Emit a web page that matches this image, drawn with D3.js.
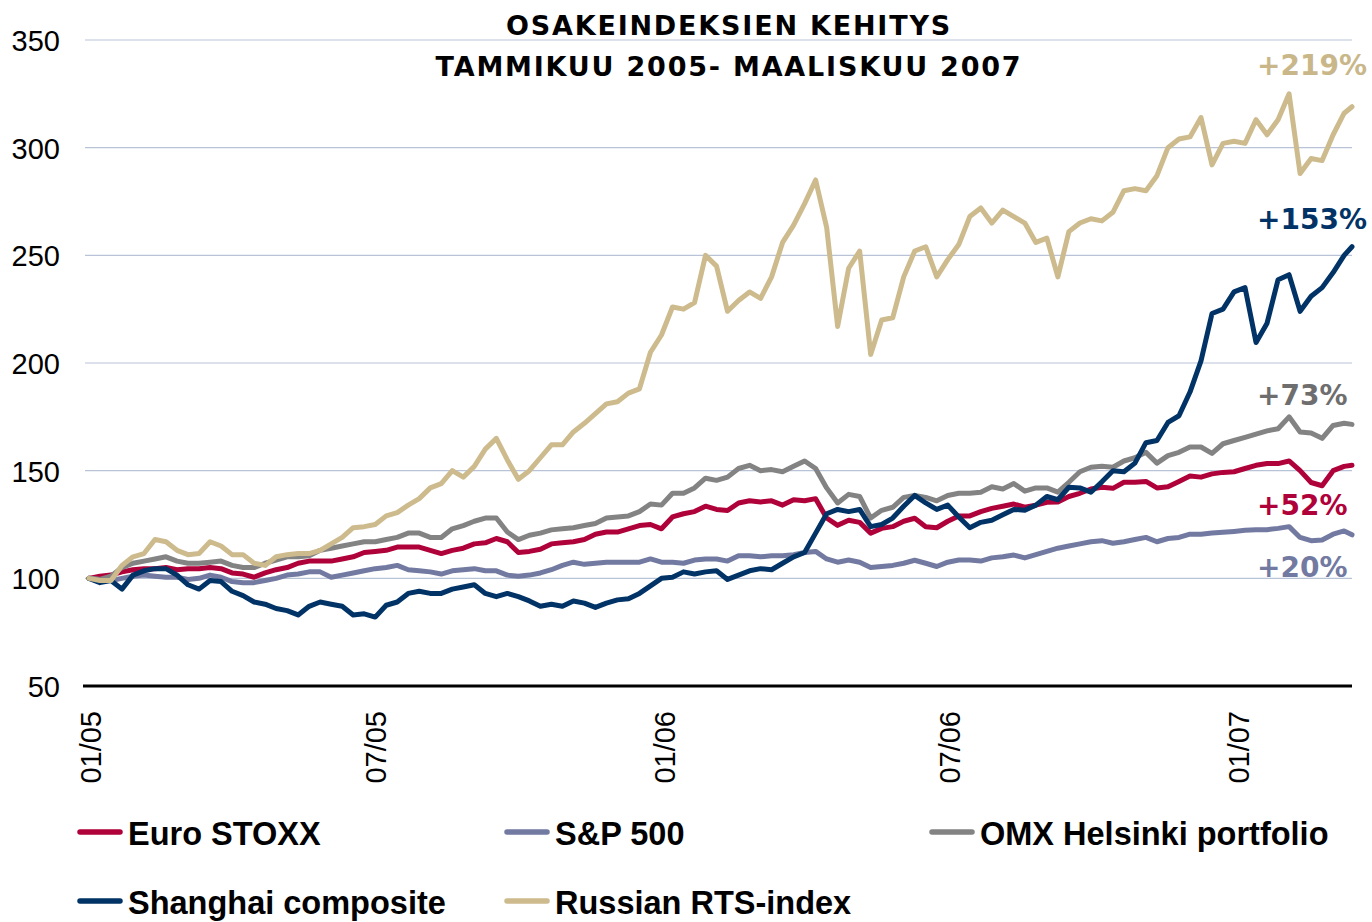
<!DOCTYPE html>
<html>
<head>
<meta charset="utf-8">
<script src="https://cdn.jsdelivr.net/npm/d3@7/dist/d3.min.js"></script>
<style>
  html, body { margin: 0; padding: 0; background: #ffffff; }
  svg { display: block; }
</style>
</head>
<body>
<svg id="chart" width="1372" height="922"></svg>
<script>
// ---------------- DATA ----------------
// Weekly observations (Fridays) from 31.12.2004, last point 14.3.2007; index, 31.12.2004 = 100
const startDate = new Date(2004, 11, 31);
const weekEnd = new Date(2007, 2, 10);
const lastDate = new Date(2007, 2, 14);

const seriesNames = ["Euro STOXX", "S&P 500", "OMX Helsinki portfolio", "Shanghai composite", "Russian RTS-index"];

const euroStoxx = [100,101,101.5,103,104,104.5,104.5,105,104,104.5,104.5,105,104.5,102.5,102,100.5,102.5,104,105,107,
  108,108,108,109,110,112,112.5,113,114.5,114.5,114.5,113,111.5,113,114,116,116.5,118.5,117,112,
  112.5,113.5,116,116.5,117,118,120.5,121.5,121.5,123,124.5,125,123,128.5,130,131,133.5,132,131.5,135,
  136,135.5,136,134,136.5,136,137,128,124.6,127,126,121,123.2,124,126.5,127.9,124,123.5,126.5,129,
  129,131,132.5,133.5,134.5,133,134,135.3,135.5,138,139.5,141.5,142.3,141.8,144.6,144.6,145,142,142.5,145,
  147.5,147,148.5,149.2,149.5,151,152.5,153.3,153.3,154.5,150,144.5,143,150,152,152.5];

const sp500 = [100,99.5,99,100,101,101.5,101,100.5,100.5,99.5,100,101.5,100.5,98.5,98,98,99,100,101.5,102,
  103,103,100.5,101.5,102.5,103.5,104.5,105,106,104,103.5,103,102,103.5,104,104.5,103.5,103.5,101.5,101,
  101.5,102.5,104,106,107.5,106.5,107,107.5,107.5,107.5,107.5,109,107.5,107.5,107,108.5,109,109,108,110.5,
  110.5,110,110.5,110.5,111,112,112.5,109,107.5,108.5,107.5,105,105.5,106,107,108.4,107,105.5,107.5,108.5,
  108.5,108,109.5,110,110.8,109.5,111,112.5,114,115,116,117,117.5,116.3,117,118,119,117,118.5,119,
  120.5,120.5,121,121.4,121.8,122.3,122.6,122.6,123.2,124,119,117.5,117.8,120.5,122,120.2];

const omxHelsinki = [100,99.5,101,105,107,108,109,110,108,107,107,107.5,108,106,105,105,107,108.5,110,110,
  110.5,113,114,115,116,117,117,118,119,121,121,119,119,123,124.5,126.5,128,128,121.5,118,
  120,121,122.5,123,123.5,124.5,125.5,128,128.5,129,131,134.5,134,139.5,139.5,142,146.5,145.5,147,151,
  152.5,150,150.5,149.5,152,154.5,151,142,135,139,138,128,131.6,133,137.6,138.5,137.6,136,138.5,139.5,
  139.5,140,142.5,141.5,144,140.5,142,142,140,144.6,149.5,151.6,152,151.6,154.5,156,158.5,153.5,157,158.5,
  161,161,158,162.5,164,165.5,167,168.5,169.5,175,168,167.5,165,171,172,171.5];

const shanghai = [100,98,99,95,101.5,103.5,104.5,104.5,101.5,97,95,99,98.5,94,92,89,88,86,85,83,
  87,89,88,87,83,83.5,82,87.5,89,93,94,93,93,95,96,97,93,91.5,93,91.5,
  89.5,87,88,87,89.5,88.5,86.5,88.5,90,90.5,93,96.5,100,100.5,103,102,103,103.5,99.5,101.5,
  103.5,104.5,104,107,110,112,121,130,132,131,132,124,125,128,133.5,138.5,135,132,134,128.5,
  123.5,126,127,129.5,132,131.6,134,138,136.5,142.3,142,140,144.8,150,149.5,153.5,163,164,172.4,175.5,
  186.5,201,223,225,233,235,209.5,218.5,238.7,241,224,231,235,242,250,254];

const russianRts = [100,99,99,106,110,111.5,118,117,113,111,111.5,117,115,111,111,107,106,110,111,111.5,
  111.5,113,116,119,123.5,124,125,129,130.5,134,137,142,144,150,147,152,160,165,155,146,
  150,156,162,162,168,172,176.5,181,182,186,188,205,213,226,225,228,250,245,224,229,
  233,230,240,256,264,274,285,263,217,244,252,204,220,221,240,252,254,240,248,255,
  268,272,265,271,268,265,256,258,240,261,265,267,266,270,280,281,280,287,300,304,
  305,314,292,302,303,302,313,306,313,325,288,295,294,306,316,319];

const changeLabels = ["+52%", "+20%", "+73%", "+153%", "+219%"];

const yTicks = [50, 100, 150, 200, 250, 300, 350];
const xTickDates = [new Date(2005, 0, 1), new Date(2005, 6, 1), new Date(2006, 0, 1), new Date(2006, 6, 1), new Date(2007, 0, 1)];

const titleLines = ["OSAKEINDEKSIEN KEHITYS", "TAMMIKUU 2005- MAALISKUU 2007"];

// ---------------- BUILD ----------------
const dates = d3.timeDay.range(startDate, weekEnd, 7);
dates.push(lastDate);

const seriesValues = [euroStoxx, sp500, omxHelsinki, shanghai, russianRts];
const colors = ["#B0023A", "#737AA1", "#838383", "#023366", "#CDBB8E"];
const labelColors = ["#B0023A", "#737AA1", "#6E6E6E", "#023366", "#C9B78A"];
const labelOffsets = [50, 42.5, -19, -18, -32];

const series = seriesNames.map((name, k) => ({
  name,
  color: colors[k],
  values: seriesValues[k].map((v, i) => ({ date: dates[i], value: v }))
}));

const svg = d3.select("#chart");

const x = d3.scaleTime()
  .domain([new Date(2005, 0, 1), lastDate])
  .range([90.5, 1352]);
const y = d3.scaleLinear()
  .domain([50, 350])
  .range([686, 40]);

// gridlines
svg.append("g")
  .selectAll("line")
  .data(yTicks.filter(t => t > 50))
  .join("line")
  .attr("x1", 85).attr("x2", 1352)
  .attr("y1", d => y(d)).attr("y2", d => y(d))
  .attr("stroke", "#B9C3D8")
  .attr("stroke-width", 1.2);

// y axis labels
const yAxis = d3.axisLeft(y).tickValues(yTicks).tickSize(0).tickPadding(0).tickFormat(d3.format("d"));
const gy = svg.append("g").attr("transform", "translate(60,0)").call(yAxis);
gy.select(".domain").remove();
gy.selectAll("text")
  .attr("font-family", "'Liberation Sans', Arial, sans-serif")
  .attr("font-size", 29)
  .attr("fill", "#000")
  .attr("dy", "0.36em");

// x axis baseline
svg.append("line")
  .attr("x1", 83).attr("x2", 1352)
  .attr("y1", y(50)).attr("y2", y(50))
  .attr("stroke", "#000").attr("stroke-width", 3);

// x axis labels
const xAxis = d3.axisBottom(x).tickValues(xTickDates).tickSize(0).tickFormat(d3.timeFormat("%m/%y"));
const gx = svg.append("g").attr("transform", `translate(0,${y(50)})`).call(xAxis);
gx.select(".domain").remove();
gx.selectAll("text")
  .attr("font-family", "'Liberation Sans', Arial, sans-serif")
  .attr("font-size", 29)
  .attr("fill", "#000")
  .attr("text-anchor", "end")
  .attr("dominant-baseline", "central")
  .attr("transform", "translate(0,25) rotate(-90)")
  .attr("x", 0).attr("y", 0).attr("dy", null);

// lines
const line = d3.line()
  .x(d => x(d.date))
  .y(d => y(d.value));

svg.append("g")
  .selectAll("path")
  .data(series)
  .join("path")
  .attr("d", d => line(d.values))
  .attr("fill", "none")
  .attr("stroke", d => d.color)
  .attr("stroke-width", 5)
  .attr("stroke-linejoin", "round")
  .attr("stroke-linecap", "round");

// change labels
svg.append("g")
  .selectAll("text")
  .data(series)
  .join("text")
  .attr("x", 1257)
  .attr("y", (d, k) => y(d.values[d.values.length - 1].value) + labelOffsets[k])
  .attr("font-family", "'DejaVu Sans', Verdana, sans-serif")
  .attr("font-weight", "bold")
  .attr("font-size", 28)
  .attr("fill", (d, k) => labelColors[k])
  .text((d, k) => changeLabels[k]);

// title
svg.append("g")
  .selectAll("text")
  .data(titleLines)
  .join("text")
  .attr("x", 729)
  .attr("y", (d, i) => 34.5 + i * 41)
  .attr("text-anchor", "middle")
  .attr("font-family", "'DejaVu Sans', Verdana, sans-serif")
  .attr("font-weight", "bold")
  .attr("font-size", 27)
  .attr("letter-spacing", "1.8px")
  .attr("fill", "#000")
  .text(d => d);

// legend
const legendPos = [[78, 832], [505, 832], [930, 832], [78, 901], [505, 901]];
const lg = svg.append("g")
  .selectAll("g")
  .data(series)
  .join("g")
  .attr("transform", (d, k) => `translate(${legendPos[k][0]},${legendPos[k][1]})`);
lg.append("line")
  .attr("x1", 2).attr("x2", 42).attr("y1", 0).attr("y2", 0)
  .attr("stroke", d => d.color)
  .attr("stroke-width", 5.5)
  .attr("stroke-linecap", "round");
lg.append("text")
  .attr("x", 50)
  .attr("y", 13)
  .attr("font-family", "'Liberation Sans', Arial, sans-serif")
  .attr("font-weight", "bold")
  .attr("font-size", 32.5)
  .attr("fill", "#000")
  .text(d => d.name);
</script>
</body>
</html>
